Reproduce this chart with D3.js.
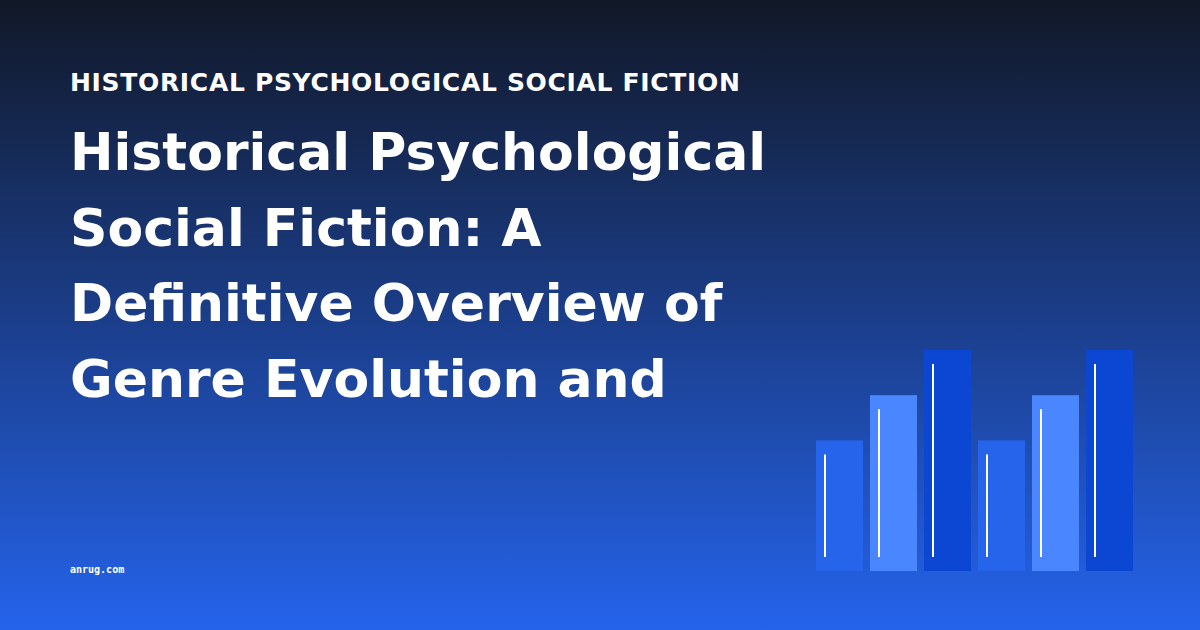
<!DOCTYPE html>
<html>
<head>
<meta charset="utf-8">
<script src="https://cdn.jsdelivr.net/npm/d3@7"></script>
<style>
  html, body { margin: 0; padding: 0; background: #111827; }
  #chart { width: 1200px; height: 630px; }
</style>
</head>
<body>
<div id="chart"></div>
<script>

// chart data
const categories = ["b1", "b2", "b3", "b4", "b5", "b6"];
const barValues = [130, 175, 220, 130, 175, 220];
const barColors = ["#2664ec", "#4a86ff", "#0b47d2", "#2664ec", "#4a86ff", "#0b47d2"];

const kicker = "HISTORICAL PSYCHOLOGICAL SOCIAL FICTION";
const titleLines = ["Historical Psychological", "Social Fiction: A", "Definitive Overview of", "Genre Evolution and"];
const siteName = "anrug.com";


//1. SVG CANVAS
const width = 1200;
const height = 630;

const svg = d3.select("#chart")
    .append("svg")
    .attr("width", width)
    .attr("height", height);

const defs = svg.append("defs");
const grad = defs.append("linearGradient")
    .attr("id", "bg")
    .attr("x1", 0).attr("y1", 0)
    .attr("x2", 0).attr("y2", 1);
grad.append("stop").attr("offset", "0%").attr("stop-color", "#111827");
grad.append("stop").attr("offset", "100%").attr("stop-color", "#2563eb");

svg.append("rect")
    .attr("width", width)
    .attr("height", height)
    .attr("fill", "url(#bg)");


//2. TEXT
svg.append("text")
    .attr("x", 70)
    .attr("y", 91)
    .attr("fill", "#ffffff")
    .style("font-family", "DejaVu Sans")
    .style("font-weight", "bold")
    .style("font-size", "25px")
    .style("letter-spacing", "0.68px")
    .text(kicker);

svg.selectAll(".title")
    .data(titleLines)
    .enter()
    .append("text")
        .attr("class", "title")
        .attr("x", 70)
        .attr("y", function(d, i) { return 170 + i * 75.5; })
        .attr("fill", "#ffffff")
        .style("font-family", "DejaVu Sans")
        .style("font-weight", "bold")
        .style("font-size", "52px")
        .text(function(d) { return d; });

svg.append("text")
    .attr("x", 70)
    .attr("y", 573)
    .attr("fill", "#ffffff")
    .style("font-family", "DejaVu Sans Mono")
    .style("font-weight", "bold")
    .style("font-size", "10px")
    .text(siteName);


//3. SCALES
const xScale = d3.scaleBand()
    .domain(categories)
    .range([816, 1133])
    .paddingInner(0.1296)
    .paddingOuter(0);

const yScale = d3.scaleLinear()
    .domain([0, 220])
    .range([571, 350]);


//4. BARS
const bars = svg.selectAll(".bar")
    .data(barValues)
    .enter()
    .append("rect")
        .attr("class", "bar")
        .attr("x", function(d, i) { return xScale(categories[i]); })
        .attr("y", function(d) { return yScale(d); })
        .attr("width", xScale.bandwidth())
        .attr("height", function(d) { return yScale(0) - yScale(d); })
        .attr("fill", function(d, i) { return barColors[i]; });

// white inner lines
svg.selectAll(".mark")
    .data(barValues)
    .enter()
    .append("line")
        .attr("class", "mark")
        .attr("x1", function(d, i) { return xScale(categories[i]) + 9; })
        .attr("x2", function(d, i) { return xScale(categories[i]) + 9; })
        .attr("y1", function(d) { return yScale(d) + 14; })
        .attr("y2", yScale(0) - 14)
        .attr("stroke", "#ffffff")
        .attr("stroke-width", 2);

</script>
</body>
</html>
